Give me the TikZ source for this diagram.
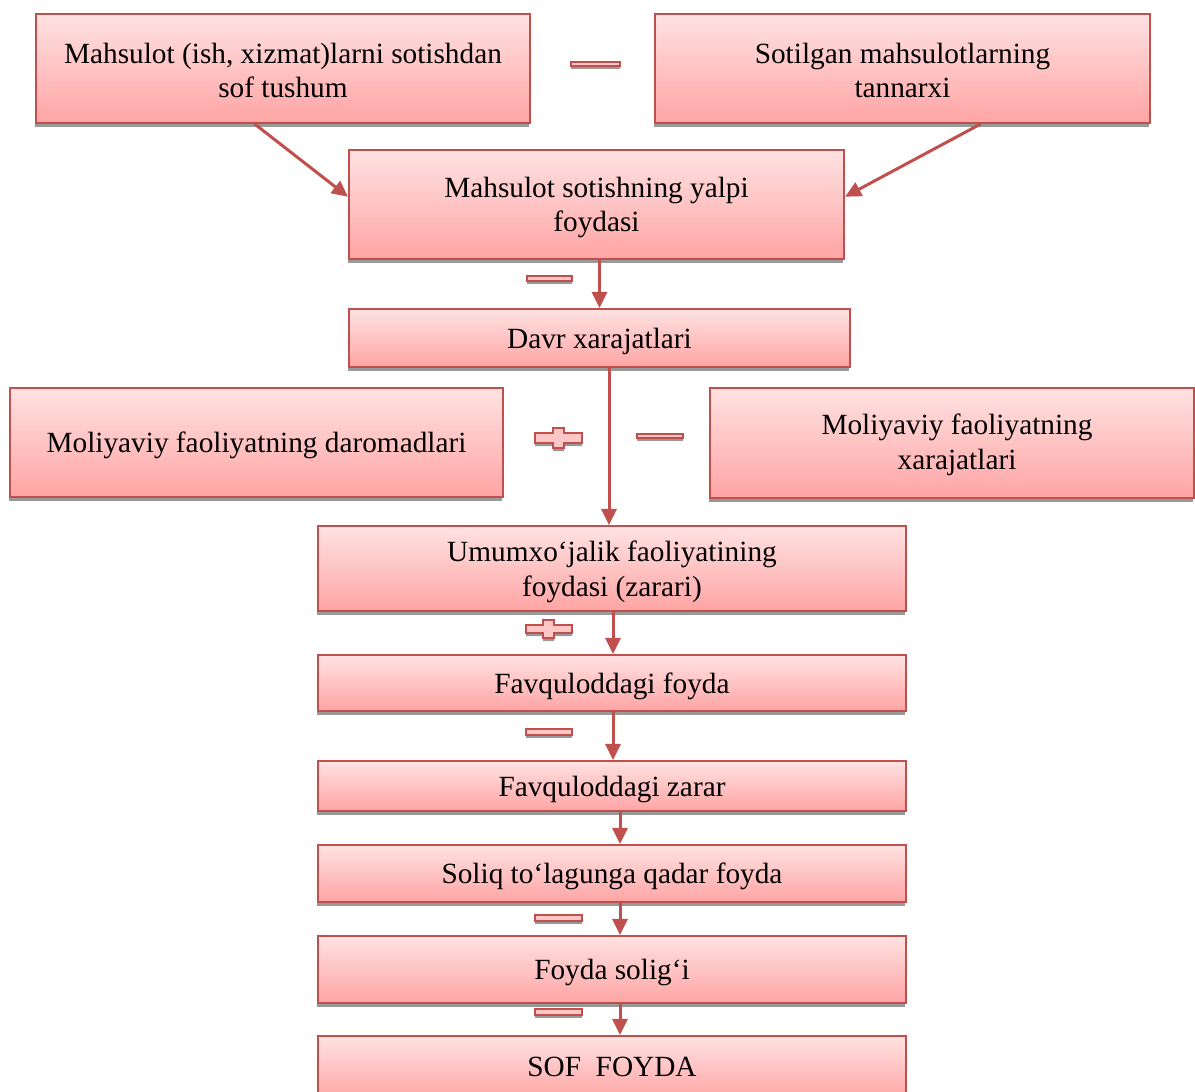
\documentclass[tikz,border=0pt]{standalone}
\usepackage{fontspec}
\setmainfont{Liberation Serif}
\usetikzlibrary{shadows,calc,arrows.meta}
\definecolor{bred}{HTML}{C0504D}
\definecolor{ptop}{HTML}{FFE2E2}
\definecolor{pbot}{HTML}{FFA4A4}
\definecolor{pmid}{HTML}{FFC6C6}
\tikzset{
 box/.style={draw=bred, line width=2.1pt, top color=ptop, bottom color=pbot,
   drop shadow={shadow xshift=-1pt, shadow yshift=-4pt, fill=black!40, opacity=1},
   inner sep=0pt},
 txt/.style={align=center, font=\fontsize{29.3}{34.8}\selectfont, inner sep=0pt, text=black},
 arr/.style={draw=bred, line width=3pt, -{Triangle[width=15pt,length=16pt]}, bred},
 sign/.style={draw=bred, line width=1.4pt, fill=pmid,
   drop shadow={shadow xshift=0pt, shadow yshift=-3pt, fill=black!40, opacity=1}}
}
\begin{document}
\begin{tikzpicture}[x=1pt,y=-1pt]
\useasboundingbox (0,0) rectangle (1195,1092);
% boxes
\node[box, minimum width=494pt, minimum height=109pt] (a) at (283,68.5) {};
\node[box, minimum width=495pt, minimum height=109pt] (b) at (902.5,68.5) {};
\node[box, minimum width=495pt, minimum height=109pt] (c) at (596.5,204.5) {};
\node[box, minimum width=501pt, minimum height=58pt] (d) at (599.5,338) {};
\node[box, minimum width=493pt, minimum height=109pt] (m1) at (256.5,442.5) {};
\node[box, minimum width=484pt, minimum height=110pt] (m2) at (952,443) {};
\node[box, minimum width=588pt, minimum height=85pt] (e) at (612,568.5) {};
\node[box, minimum width=588pt, minimum height=56pt] (f) at (612,683) {};
\node[box, minimum width=588pt, minimum height=50pt] (g) at (612,786) {};
\node[box, minimum width=588pt, minimum height=57pt] (h) at (612,873.5) {};
\node[box, minimum width=588pt, minimum height=67pt] (i) at (612,969.5) {};
\node[box, minimum width=588pt, minimum height=64pt] (j) at (612,1068) {};
% texts
\node[txt] (at) at ($(a.center)+(0,2)$) {Mahsulot (ish, xizmat)larni sotishdan\\sof tushum};
\node[txt] (bt) at ($(b.center)+(0,2)$) {Sotilgan mahsulotlarning\\tannarxi};
\node[txt] (ct) at ($(c.center)+(0,3)$) {Mahsulot sotishning yalpi\\foydasi};
\node[txt] (dt) at ($(d.center)+(0,3.5)$) {Davr xarajatlari};
\node[txt] (m1t) at ($(m1.center)+(0,3)$) {Moliyaviy faoliyatning daromadlari};
\node[txt] (m2t) at ($(m2.center)+(5,2)$) {Moliyaviy faoliyatning\\xarajatlari};
\node[txt] (et) at ($(e.center)+(0,3)$) {Umumxo‘jalik faoliyatining\\foydasi (zarari)};
\node[txt] (ft) at ($(f.center)+(0,3)$) {Favquloddagi foyda};
\node[txt] (gt) at ($(g.center)+(0,3)$) {Favquloddagi zarar};
\node[txt] (ht) at ($(h.center)+(0,3)$) {Soliq to‘lagunga qadar foyda};
\node[txt] (it) at ($(i.center)+(0,3)$) {Foyda solig‘i};
\node[txt] (jt) at ($(j.center)+(0,-1)$) {SOF\ \ FOYDA};
% connectors
\draw[arr] ($(a.south west)!0.443!(a.south east)$) -- ($(c.north west)!0.43!(c.south west)$);
\draw[arr] ($(b.south west)!0.657!(b.south east)$) -- ($(c.north east)!0.43!(c.south east)$);
\draw[arr] (d.north |- c.south) -- (d.north);
\draw[arr] ($(d.south)+(9.5,0)$) coordinate (t1) -- (t1 |- e.north);
\draw[arr] ($(e.south)+(1,0)$) coordinate (t2) -- (t2 |- f.north);
\draw[arr] ($(f.south)+(1,0)$) coordinate (t3) -- (t3 |- g.north);
\draw[arr] ($(g.south)+(8,0)$) coordinate (t4) -- (t4 |- h.north);
\draw[arr] ($(h.south)+(8,0)$) coordinate (t5) -- (t5 |- i.north);
\draw[arr] ($(i.south)+(8,0)$) coordinate (t6) -- (t6 |- j.north);
% signs
\path[sign] (571,62) rectangle (620,66);
\path[sign] (527,276) rectangle (572,281);
\path[sign] (535,433) -- (553,433) -- (553,428) -- (564,428) -- (564,433) -- (582,433)
  -- (582,443) -- (564,443) -- (564,448) -- (553,448) -- (553,443) -- (535,443) -- cycle;
\path[sign] (637,434) rectangle (683,438);
\path[sign] (526,625) -- (543,625) -- (543,620) -- (554,620) -- (554,625) -- (572,625)
  -- (572,633) -- (554,633) -- (554,638) -- (543,638) -- (543,633) -- (526,633) -- cycle;
\path[sign] (526,729) rectangle (572,735);
\path[sign] (535,915) rectangle (582,921);
\path[sign] (535,1009) rectangle (582,1015);
\end{tikzpicture}
\end{document}
